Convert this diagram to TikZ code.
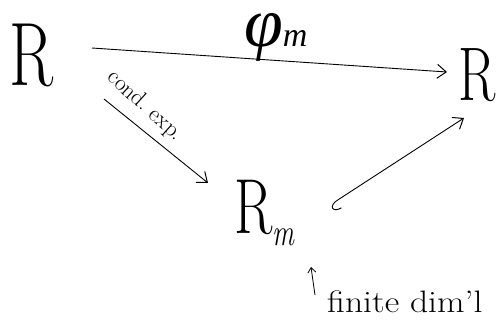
\documentclass[tikz,border=0pt]{standalone}
\usepackage{fontspec}
\newfontfamily\grkfont{Liberation Serif}
\usetikzlibrary{arrows.meta}
\begin{document}
\begin{tikzpicture}[x=1pt,y=-1pt,
  obj/.style={inner sep=0pt,anchor=base,xscale=0.72},
  arr/.style={line width=0.9pt,-{Straight Barb[length=9pt,width=14pt,line width=1pt]}},
  lbl/.style={inner sep=0pt}]
\useasboundingbox (0,0) rectangle (498,335);
\node[obj,font=\fontsize{90}{90}\selectfont] (R1) at (32,85) {R};
\node[obj,font=\fontsize{76}{76}\selectfont] (R2) at (477,100) {R};
\node[obj,font=\fontsize{78}{78}\selectfont,anchor=base west] (Rm) at (234,233) {R\raisebox{-12pt}{\fontsize{38}{38}\selectfont\itshape m}};
\coordinate (a1) at (92,48);
\coordinate (a2) at (447,72);
\draw[arr] (a1) -- (a2);
\node[lbl,anchor=base west] (phi) at (244,46) {\fontsize{70}{70}\selectfont\grkfont\itshape φ\fontsize{34}{34}\selectfont\itshape m};
\coordinate (d1) at (104,99);
\coordinate (d2) at (208,183);
\draw[arr] (d1) -- (d2);
\node[lbl,rotate=-42,font=\fontsize{23}{23}\selectfont] (ce) at (145,106) {cond.\ exp.};
\coordinate (h1) at (330,205);
\coordinate (h2) at (464,118);
\draw[line width=0.9pt,{Hooks[left,length=8pt,width=18pt]}-{Straight Barb[length=9pt,width=14pt,line width=1pt]}] (h1) -- (h2);
\coordinate (s1) at (315,295);
\coordinate (s2) at (311,267);
\draw[line width=0.8pt,-{Straight Barb[length=5pt,width=8pt]}] (s1) -- (s2);
\node[lbl,font=\fontsize{31}{31}\selectfont,anchor=base west,xscale=1.15] (fd) at (327,312) {finite dim'l};
\end{tikzpicture}
\end{document}
